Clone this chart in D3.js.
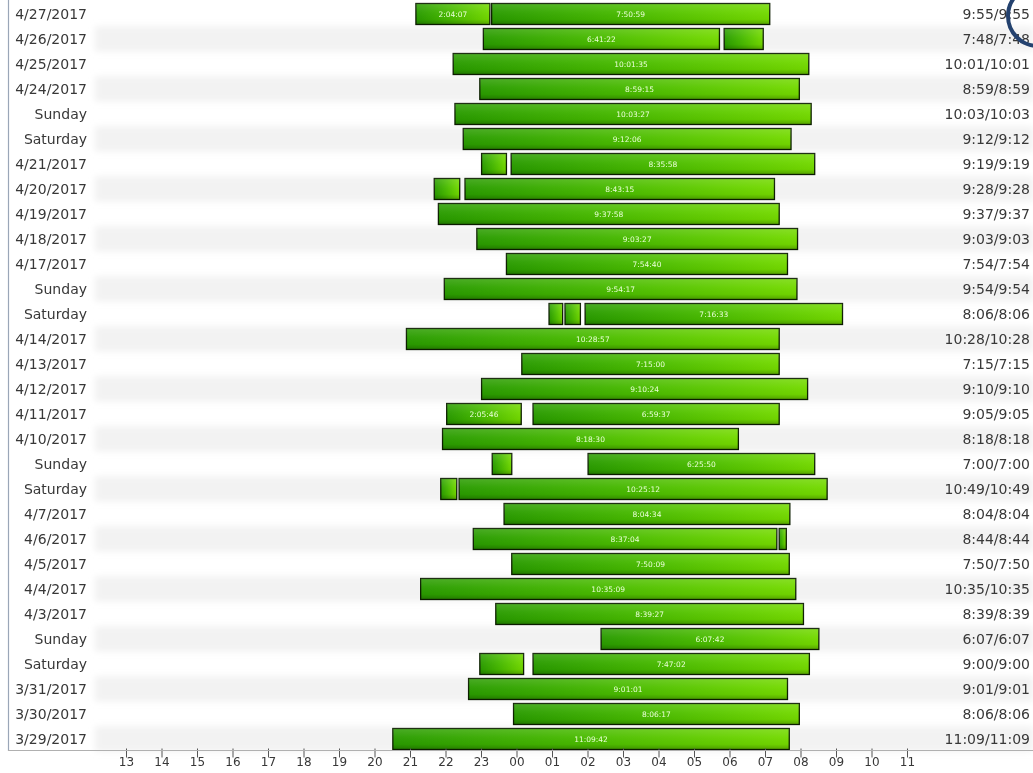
<!DOCTYPE html>
<html>
<head>
<meta charset="utf-8">
<script src="https://cdn.jsdelivr.net/npm/d3@7"></script>
<style>
  body { margin: 0; background: #fff; }
  #chart { width: 1033px; height: 773px; }
  text { font-family: "DejaVu Sans", sans-serif; }
</style>
</head>
<body>
<div id="chart"></div>
<script>
// rows, top to bottom
const rowLabels = ["4/27/2017", "4/26/2017", "4/25/2017", "4/24/2017", "Sunday", "Saturday",
  "4/21/2017", "4/20/2017", "4/19/2017", "4/18/2017", "4/17/2017", "Sunday", "Saturday",
  "4/14/2017", "4/13/2017", "4/12/2017", "4/11/2017", "4/10/2017", "Sunday", "Saturday",
  "4/7/2017", "4/6/2017", "4/5/2017", "4/4/2017", "4/3/2017", "Sunday", "Saturday",
  "3/31/2017", "3/30/2017", "3/29/2017"];

const totals = ["9:55/9:55", "7:48/7:48", "10:01/10:01", "8:59/8:59", "10:03/10:03", "9:12/9:12",
  "9:19/9:19", "9:28/9:28", "9:37/9:37", "9:03/9:03", "7:54/7:54", "9:54/9:54", "8:06/8:06",
  "10:28/10:28", "7:15/7:15", "9:10/9:10", "9:05/9:05", "8:18/8:18", "7:00/7:00", "10:49/10:49",
  "8:04/8:04", "8:44/8:44", "7:50/7:50", "10:35/10:35", "8:39/8:39", "6:07/6:07", "9:00/9:00",
  "9:01/9:01", "8:06/8:06", "11:09/11:09"];

// sleep segments per row: [start, end] clock times
const segments = [
  [["21:10", "23:15"], ["23:18", "07:08"]],
  [["23:04", "05:43"], ["05:51", "06:57"]],
  [["22:13", "08:14"]],
  [["22:58", "07:58"]],
  [["22:16", "08:18"]],
  [["22:30", "07:44"]],
  [["23:01", "23:43"], ["23:51", "08:24"]],
  [["21:41", "22:24"], ["22:33", "07:16"]],
  [["21:48", "07:24"]],
  [["22:53", "07:55"]],
  [["23:43", "07:38"]],
  [["21:58", "07:54"]],
  [["00:55", "01:18"], ["01:22", "01:48"], ["01:56", "09:11"]],
  [["20:54", "07:24"]],
  [["00:09", "07:24"]],
  [["23:01", "08:12"]],
  [["22:02", "00:08"], ["00:28", "07:24"]],
  [["21:55", "06:15"]],
  [["23:19", "23:52"], ["02:01", "08:24"]],
  [["21:52", "22:19"], ["22:23", "08:45"]],
  [["23:39", "07:42"]],
  [["22:47", "07:20"], ["07:24", "07:36"]],
  [["23:52", "07:41"]],
  [["21:18", "07:52"]],
  [["23:25", "08:05"]],
  [["02:23", "08:31"]],
  [["22:58", "00:12"], ["00:28", "08:15"]],
  [["22:39", "07:38"]],
  [["23:55", "07:58"]],
  [["20:31", "07:41"]]
];

// text inside each segment (null = too short to label)
const segLabels = [
  ["2:04:07", "7:50:59"], ["6:41:22", null], ["10:01:35"], ["8:59:15"], ["10:03:27"], ["9:12:06"],
  [null, "8:35:58"], [null, "8:43:15"], ["9:37:58"], ["9:03:27"], ["7:54:40"], ["9:54:17"],
  [null, null, "7:16:33"], ["10:28:57"], ["7:15:00"], ["9:10:24"], ["2:05:46", "6:59:37"],
  ["8:18:30"], [null, "6:25:50"], [null, "10:25:12"], ["8:04:34"], ["8:37:04", null], ["7:50:09"],
  ["10:35:09"], ["8:39:27"], ["6:07:42"], [null, "7:47:02"], ["9:01:01"], ["8:06:17"], ["11:09:42"]
];

const hourTicks = d3.range(13, 36);

// clock time -> hours on the axis (past midnight runs on past 24)
function toHours(t) {
  const [h, m] = t.split(":").map(Number);
  const v = h + m / 60;
  return v < 12 ? v + 24 : v;
}

const W = 1033, H = 773;
const svg = d3.select("#chart").append("svg")
  .attr("width", W)
  .attr("height", H);

const x = d3.scaleLinear().domain([13, 35]).range([126, 907]);
const y = d3.scaleBand()
  .domain(d3.range(rowLabels.length))
  .range([1.5, 751.5])
  .paddingInner(0.16)
  .paddingOuter(0.08);

const defs = svg.append("defs");

// soft row stripes
defs.append("filter").attr("id", "soft")
  .attr("x", "-5%").attr("y", "-50%").attr("width", "110%").attr("height", "200%")
  .append("feGaussianBlur").attr("stdDeviation", 3);

const hGrad = defs.append("linearGradient").attr("id", "barH")
  .attr("x1", "0%").attr("x2", "100%").attr("y1", "0%").attr("y2", "0%");
hGrad.selectAll("stop")
  .data([{o: "0%", c: "#2a9c00"}, {o: "45%", c: "#47b900"}, {o: "100%", c: "#74da00"}])
  .join("stop").attr("offset", d => d.o).attr("stop-color", d => d.c);

const vGrad = defs.append("linearGradient").attr("id", "barV")
  .attr("x1", "0%").attr("x2", "0%").attr("y1", "0%").attr("y2", "100%");
vGrad.selectAll("stop")
  .data([{o: "0%", c: "#ffffff", a: 0.15}, {o: "40%", c: "#ffffff", a: 0.04},
         {o: "75%", c: "#000000", a: 0.03}, {o: "100%", c: "#000000", a: 0.25}])
  .join("stop").attr("offset", d => d.o).attr("stop-color", d => d.c).attr("stop-opacity", d => d.a);

svg.append("g").attr("filter", "url(#soft)")
  .selectAll("rect")
  .data(d3.range(rowLabels.length).filter(i => i % 2 === 1))
  .join("rect")
  .attr("x", 95)
  .attr("width", W - 95)
  .attr("y", i => y(i) - 2)
  .attr("height", y.step())
  .attr("fill", "#ededed")
  .attr("opacity", 0.7);

// left axis line
svg.append("line")
  .attr("x1", 8.5).attr("x2", 8.5)
  .attr("y1", 0).attr("y2", 751)
  .attr("stroke", "#9aa6b8")
  .attr("stroke-width", 1.2);

// row labels
svg.append("g").selectAll("text")
  .data(rowLabels)
  .join("text")
  .attr("x", 87)
  .attr("y", (d, i) => y(i) + y.bandwidth() / 2)
  .attr("dy", "0.36em")
  .attr("text-anchor", "end")
  .attr("font-size", 14)
  .attr("fill", "#383838")
  .text(d => d);

svg.append("g").selectAll("text")
  .data(totals)
  .join("text")
  .attr("x", 1030)
  .attr("y", (d, i) => y(i) + y.bandwidth() / 2)
  .attr("dy", "0.36em")
  .attr("text-anchor", "end")
  .attr("font-size", 14)
  .attr("fill", "#383838")
  .text(d => d);

// bars
const flat = [];
segments.forEach((row, i) => row.forEach((s, j) => {
  flat.push({row: i, start: toHours(s[0]), end: toHours(s[1]), label: segLabels[i][j]});
}));

const bars = svg.append("g").selectAll("g")
  .data(flat)
  .join("g");

bars.append("rect")
  .attr("x", d => x(d.start))
  .attr("y", d => y(d.row))
  .attr("width", d => x(d.end) - x(d.start))
  .attr("height", y.bandwidth())
  .attr("fill", "url(#barH)")
  .attr("stroke", "#0d1f00")
  .attr("stroke-width", 1.3);

bars.append("rect")
  .attr("x", d => x(d.start))
  .attr("y", d => y(d.row))
  .attr("width", d => x(d.end) - x(d.start))
  .attr("height", y.bandwidth())
  .attr("fill", "url(#barV)");

bars.filter(d => d.label)
  .append("text")
  .attr("x", d => (x(d.start) + x(d.end)) / 2)
  .attr("y", d => y(d.row) + y.bandwidth() / 2)
  .attr("dy", "0.35em")
  .attr("text-anchor", "middle")
  .attr("font-size", 7.5)
  .attr("fill", "#eaffd8")
  .text(d => d.label);

// bottom axis
const xAxis = svg.append("g")
  .attr("transform", "translate(0,750.5)")
  .call(d3.axisBottom(x)
    .tickValues(hourTicks)
    .tickFormat(h => d3.format("02d")(h % 24))
    .tickSize(7)
    .tickPadding(0));

xAxis.select(".domain").remove();
xAxis.append("line")
  .attr("x1", 8).attr("x2", 1033)
  .attr("stroke", "#b0b0b0");
xAxis.selectAll(".tick line").attr("stroke", "#555").attr("y1", -2);
xAxis.selectAll(".tick text")
  .attr("font-family", "DejaVu Sans, sans-serif")
  .attr("font-size", 12)
  .attr("fill", "#383838");

// blue ring peeking in at the top right corner
svg.append("circle")
  .attr("cx", 1038)
  .attr("cy", 16)
  .attr("r", 30)
  .attr("fill", "none")
  .attr("stroke", "#24426f")
  .attr("stroke-width", 4);
</script>
</body>
</html>
